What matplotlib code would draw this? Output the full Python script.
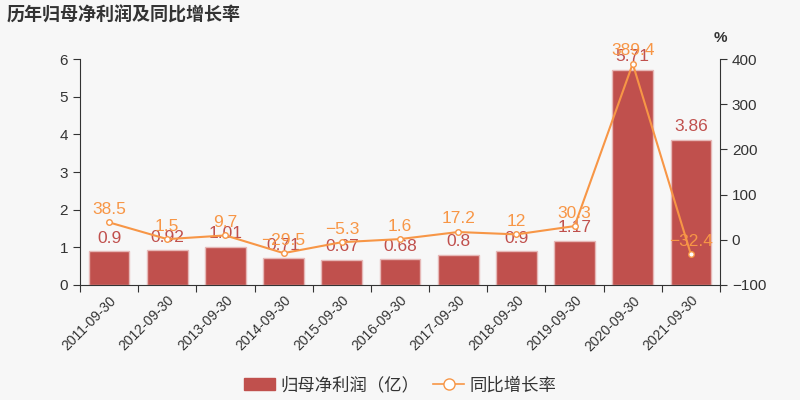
import matplotlib.pyplot as plt
from matplotlib.lines import Line2D
from matplotlib.patches import Patch

plt.rcParams['font.family'] = ['Noto Sans CJK SC', 'DejaVu Sans']

dates = ['2011-09-30', '2012-09-30', '2013-09-30', '2014-09-30', '2015-09-30', '2016-09-30',
         '2017-09-30', '2018-09-30', '2019-09-30', '2020-09-30', '2021-09-30']
profit = [0.9, 0.92, 1.01, 0.71, 0.67, 0.68, 0.8, 0.9, 1.17, 5.71, 3.86]
growth = [38.5, 1.5, 9.7, -29.5, -5.3, 1.6, 17.2, 12, 30.3, 389.4, -32.4]
profit_labels = ['0.9', '0.92', '1.01', '0.71', '0.67', '0.68', '0.8', '0.9', '1.17', '5.71', '3.86']
growth_labels = ['38.5', '1.5', '9.7', '\u221229.5', '\u22125.3', '1.6', '17.2', '12', '30.3', '389.4', '\u221232.4']

bar_color = '#c0504d'
line_color = '#f79646'
bg = '#f7f7f7'
axis_color = '#333333'
num_font = ['Liberation Sans', 'DejaVu Sans']

fig = plt.figure(figsize=(8, 4), dpi=100, facecolor=bg)
ax = fig.add_axes([0.1, 0.2875, 0.8, 0.565], facecolor=bg)
ax2 = ax.twinx()

x = list(range(len(dates)))
ax.bar(x, profit, width=0.7, color=bar_color, edgecolor='#e6b8b7', linewidth=1, zorder=2)
for xi, v, t in zip(x, profit, profit_labels):
    ax.annotate(t, (xi, v), xytext=(0, 4), textcoords='offset points', ha='center', va='bottom',
                color=bar_color, fontsize=12.5, family=num_font, zorder=5)

ax2.plot(x, growth, color=line_color, lw=1.5, marker='o', ms=4, mfc='white', mec=line_color,
         mew=1, zorder=3)
for xi, v, t in zip(x, growth, growth_labels):
    ax2.annotate(t, (xi, v), xytext=(0, 4), textcoords='offset points', ha='center', va='bottom',
                 color=line_color, fontsize=12.5, family=num_font, zorder=5)

ax.set_xlim(-0.5, len(dates) - 0.5)
ax.set_ylim(0, 6)
ax2.set_ylim(-100, 400)
ax.set_yticks(range(0, 7))
ax2.set_yticks(range(-100, 401, 100))
ax2.set_yticklabels(['\u2212100', '0', '100', '200', '300', '400'])

ax.set_xticks([i - 0.5 for i in range(len(dates) + 1)], minor=False)
ax.set_xticklabels([])
ax.set_xticks(x, minor=True)
ax.set_xticklabels(dates, minor=True, rotation=45, ha='right', rotation_mode='anchor',
                   fontsize=10, color=axis_color, family=num_font)
ax.tick_params(axis='x', which='minor', length=0, pad=6)
ax.tick_params(axis='x', which='major', length=5, color=axis_color)
for a in (ax, ax2):
    a.tick_params(axis='y', length=5, color=axis_color, labelcolor=axis_color, labelsize=11)
    for lab in a.get_yticklabels():
        lab.set_family(num_font)
    a.spines['top'].set_visible(False)
    for s in ('left', 'right', 'bottom'):
        a.spines[s].set_color(axis_color)
ax2.spines['bottom'].set_visible(False)
ax.spines['right'].set_visible(False)
ax2.spines['left'].set_visible(False)

fig.text(0.9, 0.905, '%', ha='center', va='center', fontsize=11, color=axis_color,
         fontweight='bold', family=num_font)
fig.text(0.008, 0.962, '历年归母净利润及同比增长率', ha='left', va='center', fontsize=13,
         fontweight='bold', color='#333333')

handles = [Patch(facecolor=bar_color, edgecolor=bar_color),
           Line2D([], [], color=line_color, lw=1.2, marker='o', ms=8, mfc='white', mec=line_color)]
fig.legend(handles, ['归母净利润（亿）', '同比增长率'], loc='center', bbox_to_anchor=(0.5, 0.037),
           ncol=2, frameon=False, fontsize=12.5, handlelength=1.8, columnspacing=0.8,
           handletextpad=0.3, labelcolor='#333333')

fig.savefig('out.png', dpi=100, facecolor=bg)
